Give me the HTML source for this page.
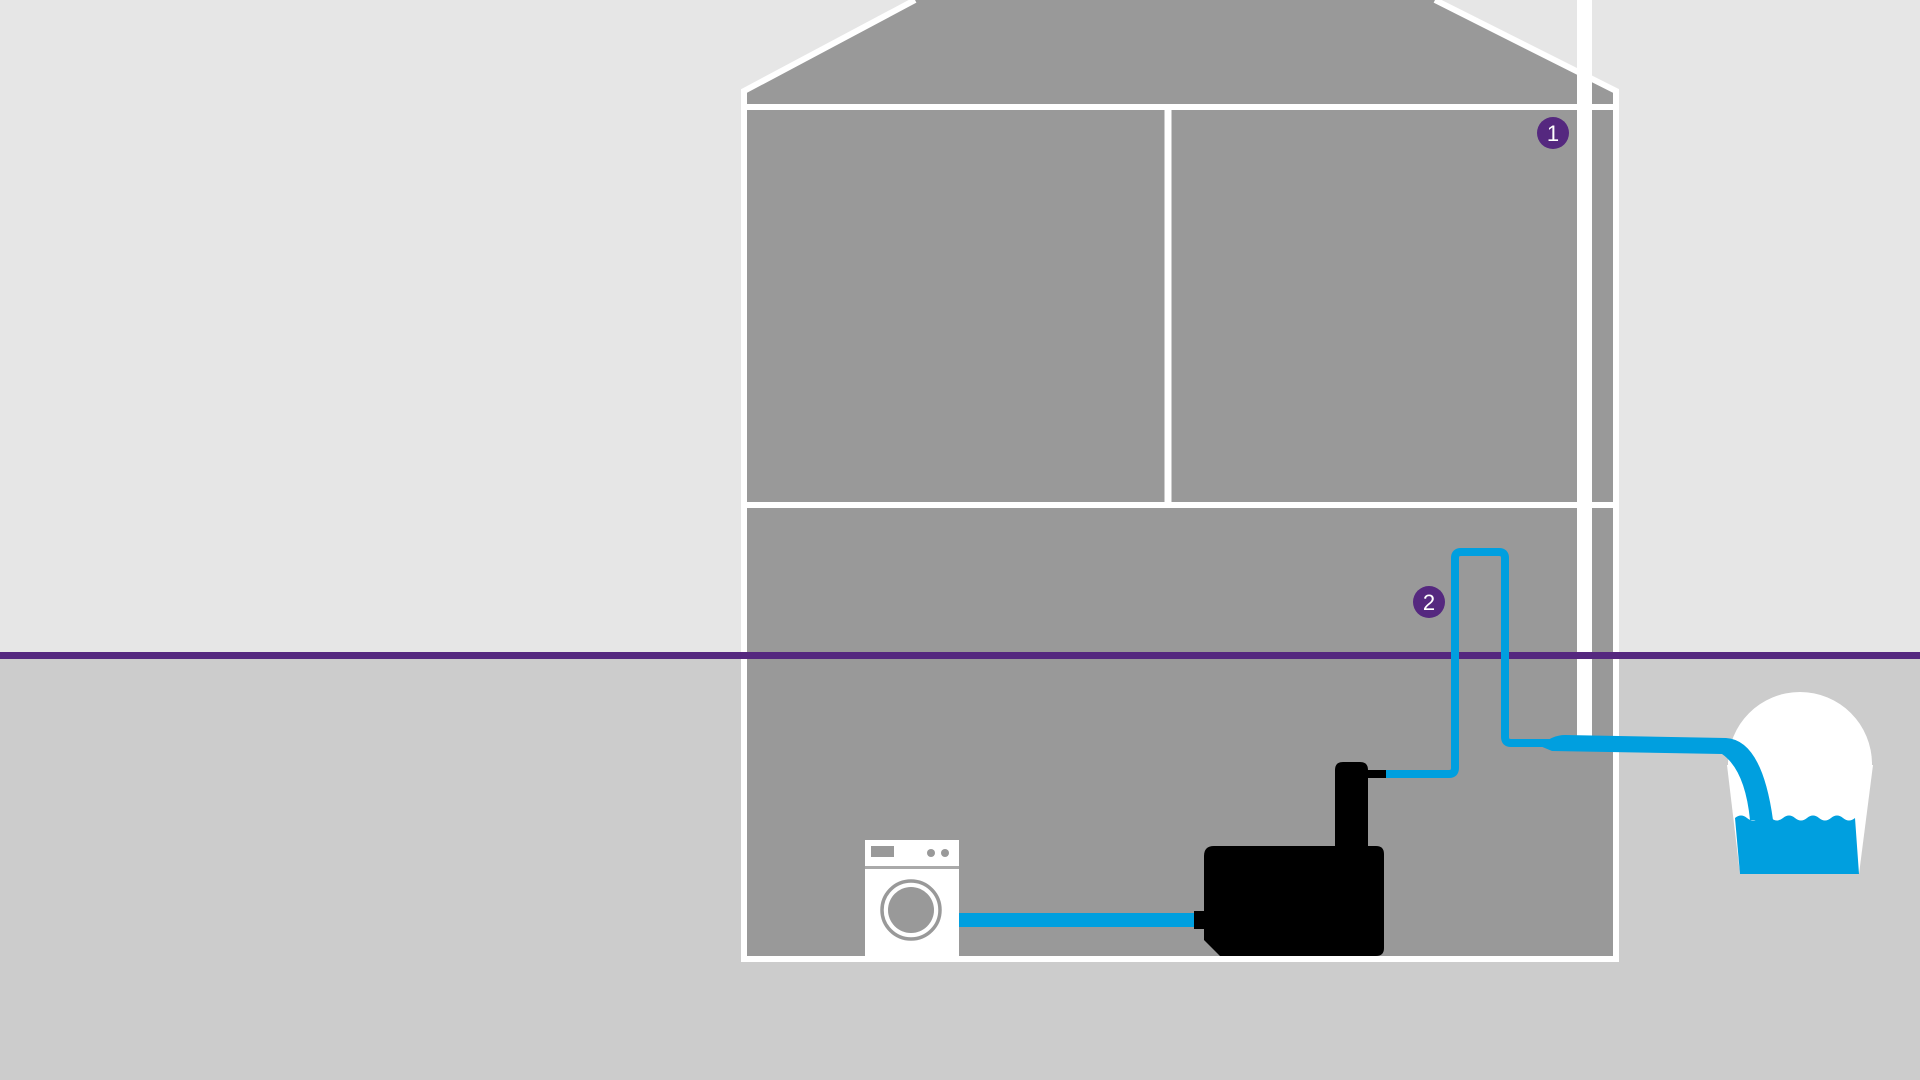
<!DOCTYPE html>
<html><head><meta charset="utf-8"><style>html,body{margin:0;padding:0;width:1920px;height:1080px;overflow:hidden;background:#e6e6e6}svg{display:block}</style></head>
<body>
<svg width="1920" height="1080" viewBox="0 0 1920 1080" xmlns="http://www.w3.org/2000/svg">
<rect x="0" y="0" width="1920" height="655" fill="#e6e6e6"/>
<rect x="0" y="655" width="1920" height="425" fill="#cccccc"/>
<!-- house -->
<polygon points="744,91 915,0 1435,0 1616,91 1616,959 744,959" fill="#999999"/>
<polyline points="744,959 744,91 915,0" fill="none" stroke="#fff" stroke-width="6"/>
<polyline points="1435,0 1616,91 1616,959 741,959" fill="none" stroke="#fff" stroke-width="6"/>
<line x1="744" y1="107" x2="1616" y2="107" stroke="#fff" stroke-width="6"/>
<line x1="744" y1="505" x2="1616" y2="505" stroke="#fff" stroke-width="6"/>
<line x1="1168" y1="107" x2="1168" y2="505" stroke="#fff" stroke-width="7"/>
<rect x="1577" y="0" width="15" height="736" fill="#fff"/>
<!-- purple line -->
<rect x="0" y="652" width="1920" height="7" fill="#55287f"/>
<!-- badges -->
<circle cx="1553" cy="133" r="16" fill="#55287f"/>
<text x="1553" y="141" font-family="Liberation Sans, sans-serif" font-size="22" fill="#fff" text-anchor="middle">1</text>
<circle cx="1429" cy="602" r="16" fill="#55287f"/>
<text x="1429" y="610" font-family="Liberation Sans, sans-serif" font-size="22" fill="#fff" text-anchor="middle">2</text>
<!-- thin pipe -->
<path d="M1386,774 H1449 Q1455,774 1455,768 V558 Q1455,552 1461,552 H1499 Q1505,552 1505,558 V737 Q1505,743 1511,743 H1552" fill="none" stroke="#009fdf" stroke-width="8"/>
<!-- bucket -->
<circle cx="1800" cy="764" r="72" fill="#fff"/>
<polygon points="1727,765 1873,765 1859,874 1740,874" fill="#fff"/>
<path d="M1735,818 q6,-5 12,0 t12,0 t12,0 t12,0 t12,0 t12,0 t12,0 t12,0 t12,0 t12,0 L1859,874 L1740,874 Z" fill="#009fdf"/>
<!-- thick hose -->
<path d="M1540,746 Q1552,735 1565,735 L1726,738 Q1762,740 1773,820 L1750,820 Q1745,770 1722,754 L1552,751 Z" fill="#009fdf"/>
<!-- washing machine -->
<rect x="865" y="840" width="94" height="117" fill="#fff"/>
<rect x="865" y="866" width="94" height="3" fill="#aaa"/>
<rect x="871" y="846" width="23" height="11" fill="#999"/>
<circle cx="931" cy="853" r="4" fill="#999"/>
<circle cx="945" cy="853" r="4" fill="#999"/>
<circle cx="911" cy="910" r="29" fill="none" stroke="#999" stroke-width="3.5"/>
<circle cx="911" cy="910" r="23" fill="#999"/>
<!-- hose to pump -->
<rect x="959" y="913" width="238" height="14" fill="#009fdf"/>
<rect x="1194" y="911" width="10" height="18" fill="#000"/>
<!-- pump -->
<path d="M1214,846 H1376 Q1384,846 1384,854 V948 Q1384,956 1376,956 H1220 L1204,940 V856 Q1204,846 1214,846 Z" fill="#000"/>
<path d="M1335,856 V770 Q1335,762 1343,762 H1360 Q1368,762 1368,770 V856 Z" fill="#000"/>
<rect x="1366" y="770" width="20" height="8" fill="#000"/>
</svg>
</body></html>
